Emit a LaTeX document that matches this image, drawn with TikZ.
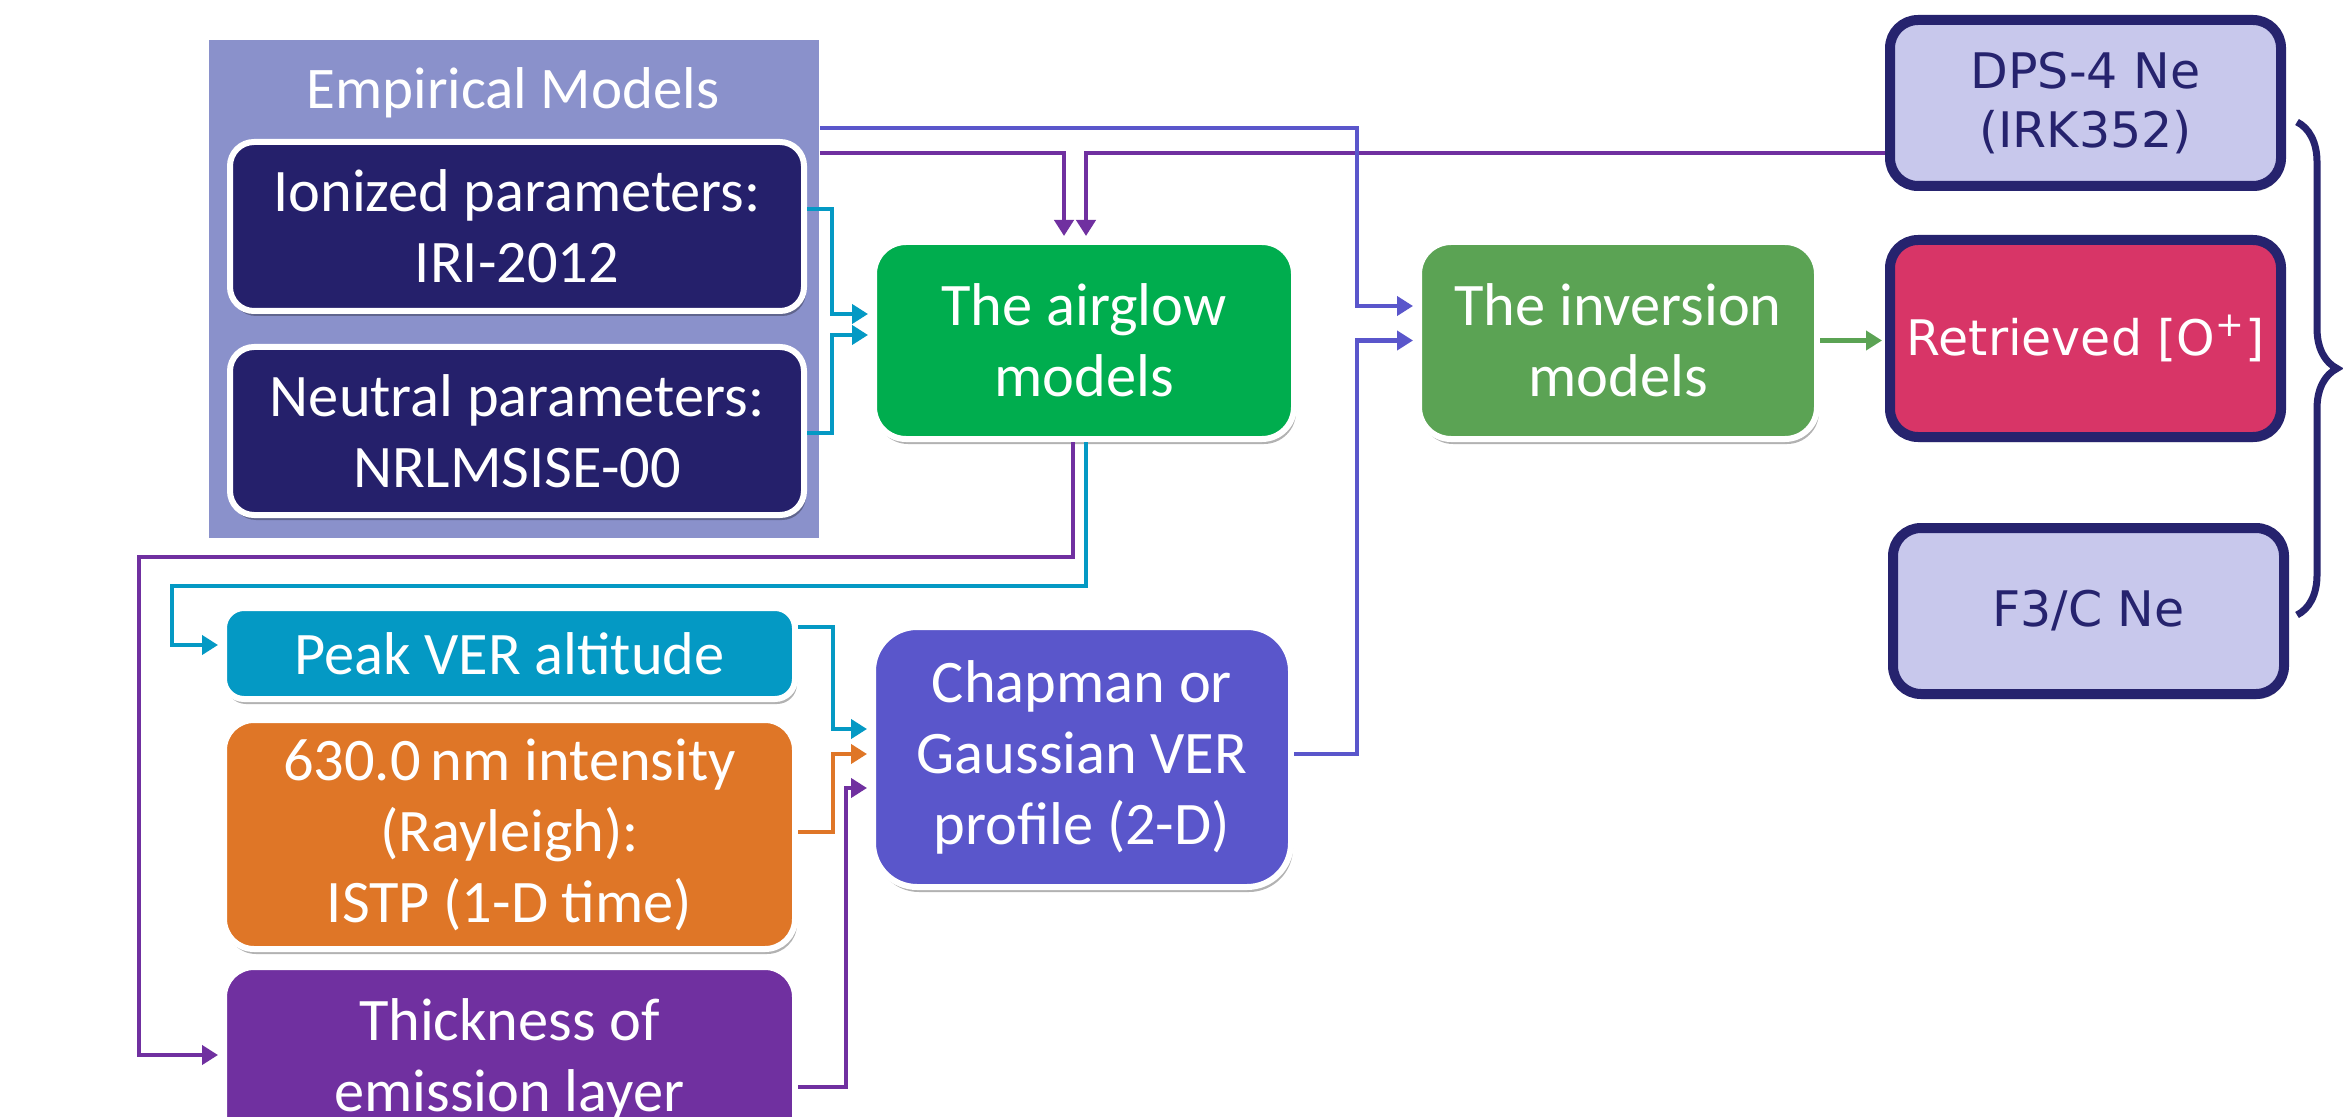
\documentclass[tikz,border=0pt]{standalone}
\usepackage{fontspec}
\setmainfont{Carlito}
\newfontfamily\vfont{DejaVu Sans}
\usetikzlibrary{calc,shadows,arrows.meta,decorations.pathreplacing}
\definecolor{empbg}{HTML}{8A91CB}
\definecolor{navy}{HTML}{25206B}
\definecolor{agreen}{HTML}{00AD4E}
\definecolor{igreen}{HTML}{5BA354}
\definecolor{lav}{HTML}{C8C8EC}
\definecolor{rose}{HTML}{D83567}
\definecolor{cyanb}{HTML}{0499C4}
\definecolor{orng}{HTML}{DF7627}
\definecolor{purp}{HTML}{7030A0}
\definecolor{bviol}{HTML}{5A56CB}
\definecolor{bnavy}{HTML}{26236E}
\begin{document}
\begin{tikzpicture}[x=0.5pt,y=-0.5pt,
  wbox/.style={draw=white, line width=3pt, text=white, align=center, inner sep=0pt,
    font=\fontsize{30.2}{35.5}\selectfont,
    drop shadow={shadow xshift=1pt, shadow yshift=-2.5pt, opacity=0.3, fill=black}},
  nbox/.style={draw=bnavy, line width=5pt, align=center, inner sep=0pt, rounded corners=14pt,
    font=\vfont\fontsize{24.5}{29.5}\selectfont,
    drop shadow={shadow xshift=1pt, shadow yshift=-2.5pt, opacity=0.25, fill=black}},
  conn/.style={line width=2.4pt, shorten >=1.5pt, -{Triangle[length=8pt,width=9.5pt]}}
]
\useasboundingbox (0,0) rectangle (2343,1117);
\clip (0,0) rectangle (2343,1117);
\fill[white] (0,0) rectangle (2343,1117);

% empirical models background
\node[fill=empbg, minimum width=305pt, minimum height=249pt, inner sep=0pt, anchor=north west] (emp) at (209,40) {};
\node[text=white, font=\fontsize{29.5}{35.5}\selectfont] (empt) at (513,93) {Empirical Models};

\node[wbox, fill=navy, rounded corners=12pt, minimum width=287pt, minimum height=84.5pt] (ion) at (517,226.5) {Ionized parameters:\\IRI-2012};
\node[wbox, fill=navy, rounded corners=12pt, minimum width=287pt, minimum height=84pt] (neu) at (517,431) {Neutral parameters:\\NRLMSISE-00};

\node[wbox, fill=agreen, rounded corners=16pt, minimum width=210pt, minimum height=98.5pt] (air) at (1084,340.5) {The airglow\\models};
\node[wbox, fill=igreen, rounded corners=16pt, minimum width=199pt, minimum height=98.5pt] (inv) at (1618,340.5) {The inversion\\models};

\node[nbox, fill=lav, text=bnavy, minimum width=195.5pt, minimum height=83pt] (dps) at (2085.5,103) {DPS-4 Ne\\(IRK352)};
\node[nbox, fill=rose, text=white, minimum width=195.5pt, minimum height=98.5pt] (ret) at (2085.5,338.5) {Retrieved [O\textsuperscript{+}]};
\node[nbox, fill=lav, text=bnavy, minimum width=195.5pt, minimum height=83pt] (f3c) at (2088.5,611) {F3/C Ne};

\node[wbox, fill=cyanb, rounded corners=10pt, minimum width=285.5pt, minimum height=45.5pt] (peak) at (509.5,653.5) {Peak VER altitude};
\node[wbox, fill=orng, rounded corners=15pt, minimum width=285.5pt, minimum height=114.5pt] (int) at (509.5,834.5) {630.0\,nm intensity\\(Rayleigh):\\ISTP (1-D time)};
\node[wbox, fill=purp, rounded corners=15pt, minimum width=285.5pt, minimum height=93pt] (thk) at (509.5,1060) {Thickness of\\emission layer};
\node[wbox, fill=bviol, rounded corners=22pt, minimum width=209pt, minimum height=130pt] (chap) at (1082,757) {Chapman or\\Gaussian VER\\profile (2-D)};

% bus coordinates
\coordinate (xA) at (832,0);
\coordinate (xB) at (1357,0);
\coordinate (xC) at (139,557);
\coordinate (xD) at (172,586);
\coordinate (xE) at (833,0);
\coordinate (xF) at (846,0);

% connectors
\draw[conn,cyanb] ($(ion.east)+(0,-17.5)$) -| ($(xA |- air.west)+(0,-26.5)$) -- ($(air.west)+(0,-26.5)$);
\draw[conn,cyanb] ($(neu.east)+(0,2)$) -| ($(xA |- air.west)+(0,-5.5)$) -- ($(air.west)+(0,-5.5)$);
\draw[conn,purp] ($(emp.north east)+(0,113)$) -| ($(air.north)+(-20,0)$);
\draw[conn,purp] ($(dps.west)+(0,50)$) -| ($(air.north)+(2,0)$);
\draw[conn,bviol] ($(emp.north east)+(0,88)$) -| ($(xB |- inv.west)+(0,-34.5)$) -- ($(inv.west)+(0,-34.5)$);
\draw[conn,bviol] ($(chap.east)+(0,-3)$) -| (xB |- inv.west) -- (inv.west);
\draw[conn,igreen] (inv.east) -- (inv.east -| ret.west);
\draw[conn,purp] ($(air.south)+(-11,0)$) |- (xC) |- ($(thk.west)+(0,-5)$);
\draw[conn,cyanb] ($(air.south)+(2,0)$) |- (xD) |- ($(peak.west)+(0,-8.5)$);
\draw[conn,cyanb] ($(peak.east)+(0,-26.5)$) -| ($(xE |- chap.west)+(0,-28)$) -- ($(chap.west)+(0,-28)$);
\draw[conn,orng] ($(int.east)+(0,-2.5)$) -| ($(xE |- chap.west)+(0,-3)$) -- ($(chap.west)+(0,-3)$);
\draw[conn,purp] ($(thk.east)+(0,27)$) -| ($(xF |- chap.west)+(0,31)$) -- ($(chap.west)+(0,31)$);

% brace
\draw[bnavy, line width=3.5pt, decorate, decoration={brace, amplitude=20pt}] ($(dps.east)+(11,19)$) -- ($(f3c.east)+(8,4)$);
\end{tikzpicture}
\end{document}
